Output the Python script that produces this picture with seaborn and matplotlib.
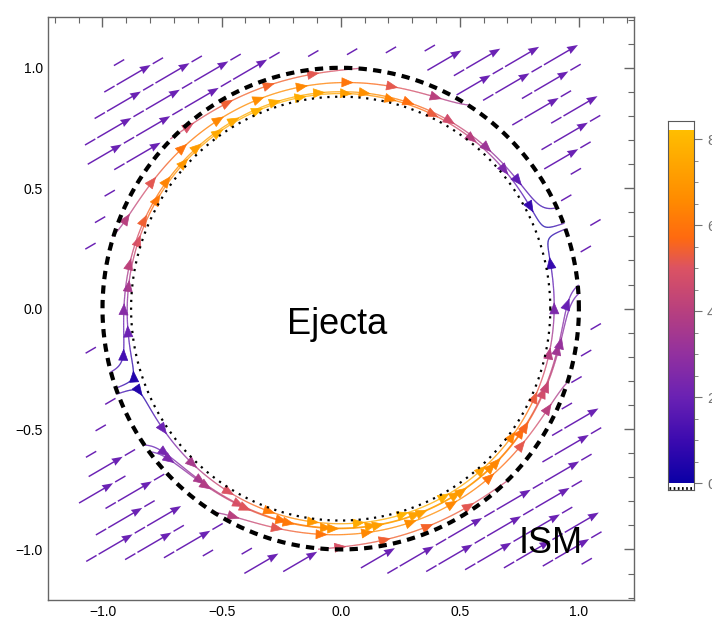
import numpy as np
import matplotlib
matplotlib.use("Agg")
import matplotlib.pyplot as plt
from matplotlib.colors import LinearSegmentedColormap, Normalize
from matplotlib.collections import LineCollection
from matplotlib.patches import FancyArrowPatch
from matplotlib.ticker import MultipleLocator
import seaborn as sns

sns.set_style("white")
plt.rcParams['font.family'] = ['Liberation Sans', 'DejaVu Sans']

# flow setup
FLOW_ANGLE_DEG = 30.0      # direction of the ISM flow
SHELL_ANGLE_DEG = 20.0     # axis of the flow inside the shell
ISM_SPEED = 2.0            # uniform speed outside the shell
SHELL_SPEED_INNER = 8.2    # peak tangential speed at the ejecta edge
SHELL_SPEED_OUTER = 4.8    # peak tangential speed at the shell edge
SHELL_RADIAL = 1.8         # radial speed at the shell edge
R_EJECTA = 0.88
R_SHELL = 1.0
FIELD_BOX = 1.1            # arrows are drawn inside |x|, |y| < 1.1

# layout of the ISM arrows (along / across the flow)
ROW_GAP = 0.075
PERIOD = 0.235
ROW_SHIFT = 0.09
ARROW_LEN = 0.165
STUB_LEN = 0.05
STUB_OFFSET = 0.175

# seeds of the stream lines inside the shell (angle in degrees, radius)
SEED_THETA = [110, 110, 110, -70, -70, -70, 215, 25, 0]
SEED_R = [0.893, 0.935, 0.975, 0.893, 0.935, 0.975, 0.99, 0.985, 0.96]
HEAD_SPACING = 0.19

XLIM = (-1.23, 1.23)
YLIM = (-1.21, 1.21)

CBAR_TICKS = [0, 2, 4, 6, 8]
CBAR_MAX = 8.2
CMAP_STOPS = [0.0, 1.0, 2.0, 3.0, 4.0, 5.0, 5.7, 6.6, 8.2]
CMAP_COLORS = ["#0b00a6", "#3d0bb0", "#6b22b4", "#93319f", "#b8407f",
               "#dc5363", "#ff6a10", "#ff8c00", "#ffbe00"]

LABEL_TEXT = ["Ejecta", "ISM"]
LABEL_X = [-0.015, 0.88]
LABEL_Y = [-0.065, -0.975]

cmap = LinearSegmentedColormap.from_list(
    "shell", [(s / CBAR_MAX, c) for s, c in zip(CMAP_STOPS, CMAP_COLORS)])
norm = Normalize(0, CBAR_MAX)
alpha = np.deg2rad(FLOW_ANGLE_DEG)
beta = np.deg2rad(SHELL_ANGLE_DEG)
ca, sa = np.cos(alpha), np.sin(alpha)

fig = plt.figure(figsize=(7.12, 6.26), dpi=100)
ax = fig.add_axes([0.067, 0.0415, 0.823, 0.931])

# ---- ISM: uniform flow drawn as staggered arrows + short stubs
K, J = np.meshgrid(np.arange(-35, 36), np.arange(-16, 17))
n = K * ROW_GAP
s = J * PERIOD + (K * ROW_SHIFT) % PERIOD


def keep(x0, y0, length):
    x1, y1 = x0 + length * ca, y0 + length * sa
    xm, ym = (x0 + x1) / 2, (y0 + y1) / 2
    ok = (np.hypot(x0, y0) > R_SHELL + 0.01) & (np.hypot(x1, y1) > R_SHELL + 0.01)
    ok &= np.hypot(xm, ym) > R_SHELL + 0.01
    ok &= (np.abs(x0) < FIELD_BOX) & (np.abs(y0) < FIELD_BOX)
    ok &= (np.abs(x1) < FIELD_BOX) & (np.abs(y1) < FIELD_BOX)
    return ok


ism_color = cmap(norm(ISM_SPEED))
px0 = s * ca - n * sa
py0 = s * sa + n * ca
ok = keep(px0, py0, ARROW_LEN)
ax.quiver(px0[ok], py0[ok], np.full(ok.sum(), ARROW_LEN * ca), np.full(ok.sum(), ARROW_LEN * sa),
          angles="xy", scale_units="xy", scale=1, color=ism_color, width=0.0025,
          headwidth=5.5, headlength=7.5, headaxislength=7, zorder=3)
sx0 = px0 + STUB_OFFSET * ca
sy0 = py0 + STUB_OFFSET * sa
ok = keep(sx0, sy0, STUB_LEN)
ax.quiver(sx0[ok], sy0[ok], np.full(ok.sum(), STUB_LEN * ca), np.full(ok.sum(), STUB_LEN * sa),
          angles="xy", scale_units="xy", scale=1, color=ism_color, width=0.0025,
          headwidth=0, headlength=0, headaxislength=0, zorder=3)


# ---- shell: flow sliding around the ejecta
def shell_velocity(x, y):
    r = np.hypot(x, y)
    th = np.arctan2(y, x)
    ph = th - beta
    t = np.clip((r - R_EJECTA) / (R_SHELL - R_EJECTA), 0, 1)
    S = SHELL_SPEED_INNER + (SHELL_SPEED_OUTER - SHELL_SPEED_INNER) * t
    vt = -S * np.sin(ph)
    vr = SHELL_RADIAL * np.cos(ph) * t ** 2
    return vr * np.cos(th) - vt * np.sin(th), vr * np.sin(th) + vt * np.cos(th)


def trace(x, y, sign, h=0.003, nmax=1100):
    pts = [(x, y)]
    for _ in range(nmax):
        def d(px, py):
            u, v = shell_velocity(px, py)
            sp = np.hypot(u, v) + 1e-9
            return sign * u / sp, sign * v / sp
        k1 = d(x, y)
        k2 = d(x + h / 2 * k1[0], y + h / 2 * k1[1])
        k3 = d(x + h / 2 * k2[0], y + h / 2 * k2[1])
        k4 = d(x + h * k3[0], y + h * k3[1])
        x += h / 6 * (k1[0] + 2 * k2[0] + 2 * k3[0] + k4[0])
        y += h / 6 * (k1[1] + 2 * k2[1] + 2 * k3[1] + k4[1])
        r = np.hypot(x, y)
        if r > R_SHELL + 0.004 or r < R_EJECTA - 0.003:
            break
        pts.append((x, y))
    return np.array(pts)


for th0, r0 in zip(SEED_THETA, SEED_R):
    x0, y0 = r0 * np.cos(np.deg2rad(th0)), r0 * np.sin(np.deg2rad(th0))
    back = trace(x0, y0, -1)[::-1]
    fwd = trace(x0, y0, 1)
    line = np.vstack([back, fwd[1:]])
    if len(line) < 4:
        continue
    u, v = shell_velocity(line[:, 0], line[:, 1])
    spd = np.hypot(u, v)
    segs = np.stack([line[:-1], line[1:]], axis=1)
    lc = LineCollection(segs, cmap=cmap, norm=norm, linewidths=0.9, zorder=3)
    lc.set_array((spd[:-1] + spd[1:]) / 2)
    ax.add_collection(lc)
    arc = np.concatenate([[0], np.cumsum(np.hypot(*np.diff(line, axis=0).T))])
    for a in np.arange(HEAD_SPACING * 0.6, arc[-1] - 0.02, HEAD_SPACING):
        i = np.searchsorted(arc, a)
        i = min(max(i, 1), len(line) - 2)
        col = cmap(norm(spd[i]))
        ax.add_patch(FancyArrowPatch(line[i - 1], line[i + 1],
                                     arrowstyle="-|>,head_length=0.6,head_width=0.25",
                                     mutation_scale=13, color=col, lw=0.5,
                                     shrinkA=0, shrinkB=0, zorder=3))

tt = np.linspace(0, 2 * np.pi, 600)
ax.plot(R_SHELL * np.cos(tt), R_SHELL * np.sin(tt), color="black", lw=3, dashes=(2, 1.5), zorder=5)
ax.plot(R_EJECTA * np.cos(tt), R_EJECTA * np.sin(tt), color="black", lw=1.6, dashes=(1, 2.5), zorder=5)

for txt, x, y in zip(LABEL_TEXT, LABEL_X, LABEL_Y):
    ax.text(x, y, txt, fontsize=26, ha="center", va="center", color="black", zorder=6)

ax.set_xlim(*XLIM)
ax.set_ylim(*YLIM)
ax.xaxis.set_major_locator(MultipleLocator(0.5))
ax.xaxis.set_minor_locator(MultipleLocator(0.1))
ax.yaxis.set_major_locator(MultipleLocator(0.5))
ax.yaxis.set_minor_locator(MultipleLocator(0.1))
ax.tick_params(which="both", direction="in", top=True, right=True, color="0.4",
               labelsize=10, labelcolor="black")
ax.tick_params(which="major", length=7, width=1)
ax.tick_params(which="minor", length=4, width=0.8)
for sp in ax.spines.values():
    sp.set_color("0.4")
    sp.set_linewidth(1)

# colorbar drawn by hand so the empty band above the top can be shown
cax = fig.add_axes([0.938, 0.217, 0.0365, 0.589])
grad = np.linspace(0, CBAR_MAX, 256).reshape(-1, 1)
cax.imshow(grad, cmap=cmap, norm=norm, aspect="auto", origin="lower",
           extent=[0, 1, 0, CBAR_MAX])
cax.plot([0.05, 0.95], [-0.1, -0.1], color="black", lw=2, dashes=(0.6, 0.9))
cax.set_xlim(0, 1)
cax.set_ylim(-0.16, 8.42)
cax.set_xticks([])
cax.yaxis.tick_right()
cax.set_yticks(CBAR_TICKS)
cax.yaxis.set_minor_locator(MultipleLocator(0.5))
cax.tick_params(axis="y", which="both", direction="out", colors="0.45", labelsize=11)
cax.tick_params(axis="y", which="major", length=6)
cax.tick_params(axis="y", which="minor", length=3)
for sp in cax.spines.values():
    sp.set_color("0.35")

fig.savefig("out.png", dpi=100)
